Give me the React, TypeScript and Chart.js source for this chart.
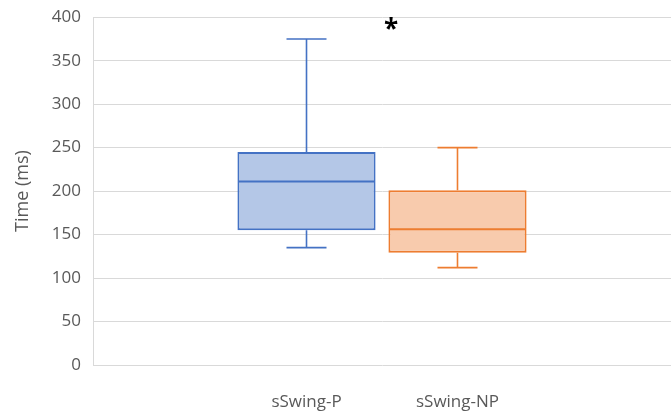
import React, { useEffect, useRef } from "react";
import { Chart, registerables } from "chart.js";

Chart.register(...registerables);

const categories = ["sSwing-P", "sSwing-NP"];
const positions = [1, 2];
const mins = [135, 112];
const q1s = [155, 129];
const medians = [211, 156];
const q3s = [245, 201];
const maxs = [375, 250];
const yTicks = [0, 50, 100, 150, 200, 250, 300, 350, 400];
const sigLabel = "*";
const sigX = 1.56;
const sigY = 393;

const borderColors = ["#4472C4", "#ED7D31"];
const fillColors = ["#B4C7E7", "#F8CBAD"];
const FONT = "'Open Sans', sans-serif";
const BAR_PCT = 0.915;

const boxPlugin = {
  id: "boxWhisker",
  afterDatasetsDraw(chart: any) {
    const xs = chart.scales.x;
    const ys = chart.scales.y;
    const ctx = chart.ctx;
    ctx.save();
    positions.forEach((p, i) => {
      const cx = xs.getPixelForValue(p);
      const half = (xs.getPixelForValue(p + 1) - xs.getPixelForValue(p)) * BAR_PCT / 2 - 1;
      const capHalf = 20;
      ctx.strokeStyle = borderColors[i];
      ctx.lineWidth = 1.6;
      ctx.beginPath();
      ctx.moveTo(cx, ys.getPixelForValue(q3s[i]));
      ctx.lineTo(cx, ys.getPixelForValue(maxs[i]));
      ctx.moveTo(cx - capHalf, ys.getPixelForValue(maxs[i]));
      ctx.lineTo(cx + capHalf, ys.getPixelForValue(maxs[i]));
      ctx.moveTo(cx, ys.getPixelForValue(q1s[i]));
      ctx.lineTo(cx, ys.getPixelForValue(mins[i]));
      ctx.moveTo(cx - capHalf, ys.getPixelForValue(mins[i]));
      ctx.lineTo(cx + capHalf, ys.getPixelForValue(mins[i]));
      ctx.stroke();
      ctx.lineWidth = 2;
      ctx.beginPath();
      ctx.moveTo(cx - half, ys.getPixelForValue(medians[i]));
      ctx.lineTo(cx + half, ys.getPixelForValue(medians[i]));
      ctx.stroke();
    });
    ctx.fillStyle = "#000000";
    ctx.font = `bold 26px ${FONT}`;
    ctx.textAlign = "center";
    ctx.textBaseline = "alphabetic";
    const m = ctx.measureText(sigLabel);
    const px = xs.getPixelForValue(sigX);
    const py = ys.getPixelForValue(sigY);
    ctx.fillText(sigLabel, px, py + (m.actualBoundingBoxAscent - m.actualBoundingBoxDescent) / 2);
    ctx.restore();
  },
};

export default function App() {
  const ref = useRef<HTMLCanvasElement>(null);
  useEffect(() => {
    if (!ref.current) return;
    const chart = new Chart(ref.current, {
      type: "bar",
      data: {
        datasets: [
          {
            data: positions.map((p, i) => ({ x: p, y: [q1s[i], q3s[i]] })) as any,
            backgroundColor: fillColors,
            borderColor: borderColors,
            borderWidth: 2,
            borderSkipped: false,
            barPercentage: BAR_PCT,
            categoryPercentage: 1,
          },
        ],
      },
      options: {
        animation: false,
        responsive: false,
        maintainAspectRatio: false,
        layout: { padding: { top: 12, right: 0, left: 0, bottom: 0 } },
        plugins: { legend: { display: false }, tooltip: { enabled: false } },
        scales: {
          x: {
            type: "linear",
            offset: false,
            min: -0.414,
            max: 3.414,
            grid: { display: false, offset: false },
            border: { display: false },
            afterBuildTicks: (s: any) => {
              s.ticks = positions.map((v) => ({ value: v }));
            },
            afterFit: (s: any) => {
              s.height = 51;
            },
            ticks: {
              autoSkip: false,
              maxRotation: 0,
              padding: 19,
              color: "#595959",
              font: { family: FONT, size: 17 },
              callback: (v: any) => {
                const idx = positions.indexOf(Number(v));
                return idx >= 0 ? categories[idx] : "";
              },
            },
          },
          y: {
            min: 0,
            max: 400,
            afterBuildTicks: (s: any) => {
              s.ticks = yTicks.map((v) => ({ value: v }));
            },
            afterFit: (s: any) => {
              s.width = 93;
            },
            grid: {
              color: "#D9D9D9",
              lineWidth: 1,
              drawTicks: true,
              tickLength: 5,
              tickColor: "rgba(0,0,0,0)",
            },
            border: { display: true, color: "#D9D9D9" },
            ticks: {
              padding: 7,
              color: "#595959",
              font: { family: FONT, size: 17 },
            },
            title: {
              display: true,
              text: "Time (ms)",
              color: "#595959",
              font: { family: FONT, size: 18 },
              padding: { top: 12, bottom: 4 },
            },
          },
        },
      },
      plugins: [boxPlugin],
    });
    return () => chart.destroy();
  }, []);
  return (
    <div style={{ position: "fixed", left: 0, top: 0, width: 671, height: 416, background: "#fff" }}>
      <canvas ref={ref} width={671} height={416} />
    </div>
  );
}
